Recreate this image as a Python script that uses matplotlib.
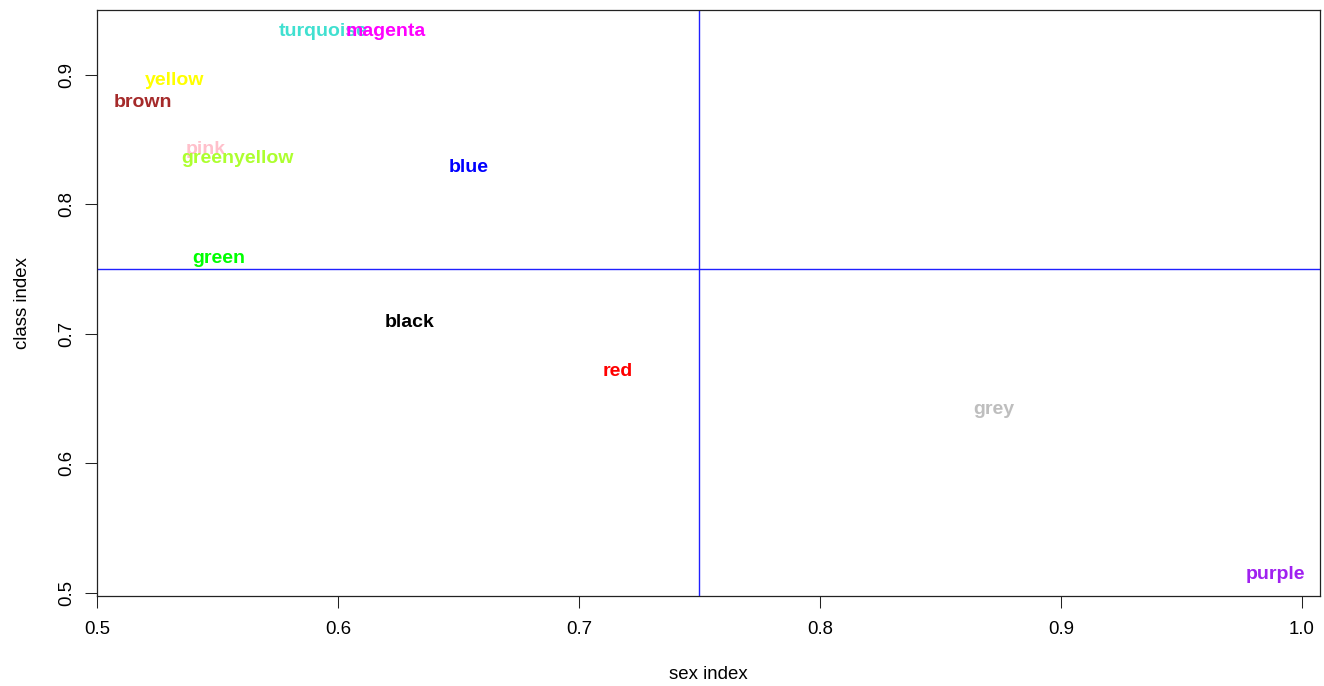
import numpy as np
import matplotlib
matplotlib.use("Agg")
import matplotlib.pyplot as plt
from matplotlib.transforms import ScaledTranslation

plt.rcParams['font.family'] = ['Liberation Sans', 'DejaVu Sans']

# module names (also used as colours), drawn in this order
modules = ["turquoise", "magenta", "yellow", "brown", "pink", "greenyellow",
           "blue", "green", "black", "red", "grey", "purple"]
colors = ["#40E0D0", "#FF00FF", "#FFFF00", "#A52A2A", "#FFC0CB", "#ADFF2F",
          "#0000FF", "#00FF00", "#000000", "#FF0000", "#BEBEBE", "#A020F0"]
sex_index = [0.5939, 0.6200, 0.5321, 0.5189, 0.5452, 0.5584,
             0.6543, 0.5507, 0.6299, 0.7162, 0.8722, 0.9889]
class_index = [0.9355, 0.9355, 0.8977, 0.8809, 0.8444, 0.8372,
               0.8307, 0.7600, 0.7106, 0.6732, 0.6436, 0.5160]

x_ticks = [0.5, 0.6, 0.7, 0.8, 0.9, 1.0]
y_ticks = [0.5, 0.6, 0.7, 0.8, 0.9]
cutoff = 0.75

fs = 13.4      # axis text
fs_lab = 14    # module labels

fig = plt.figure(figsize=(13.24, 6.86), dpi=100)
ax = fig.add_axes([97 / 1324, 90 / 686, 1223 / 1324, 586.5 / 686])

# reference lines
ax.axvline(cutoff, color="#2020FF", linewidth=1.0)
ax.axhline(cutoff, color="#2020FF", linewidth=1.0)

# text labels, vertically centred on cap height like R's text()
offset = ScaledTranslation(0, -0.5 * 0.716 * fs_lab / 72, fig.dpi_scale_trans)
for name, col, xv, yv in zip(modules, colors, sex_index, class_index):
    ax.text(xv, yv, name, color=col, fontsize=fs_lab, fontweight="bold",
            ha="center", va="baseline", transform=ax.transData + offset)

ax.set_xlim(0.5, 1.0075)
ax.set_ylim(0.4975, 0.9506)
ax.set_xticks(x_ticks)
ax.set_xticklabels([f"{v:.1f}" for v in x_ticks])
ax.set_yticks(y_ticks)
ax.set_yticklabels([f"{v:.1f}" for v in y_ticks], rotation=90, va="center")

ax.tick_params(axis="both", length=8.6, width=0.75, labelsize=fs, color="#222222")
ax.tick_params(axis="x", pad=9.5)
ax.tick_params(axis="y", pad=7)
for sp in ax.spines.values():
    sp.set_linewidth(0.9)
    sp.set_color("#222222")

ax.set_xlabel("sex index", fontsize=fs)
ax.xaxis.set_label_coords(0.5, -0.1192)
ax.set_ylabel("class index", fontsize=fs)
ax.yaxis.set_label_coords(-0.0542, 0.5)

fig.savefig("out.png", dpi=100)
